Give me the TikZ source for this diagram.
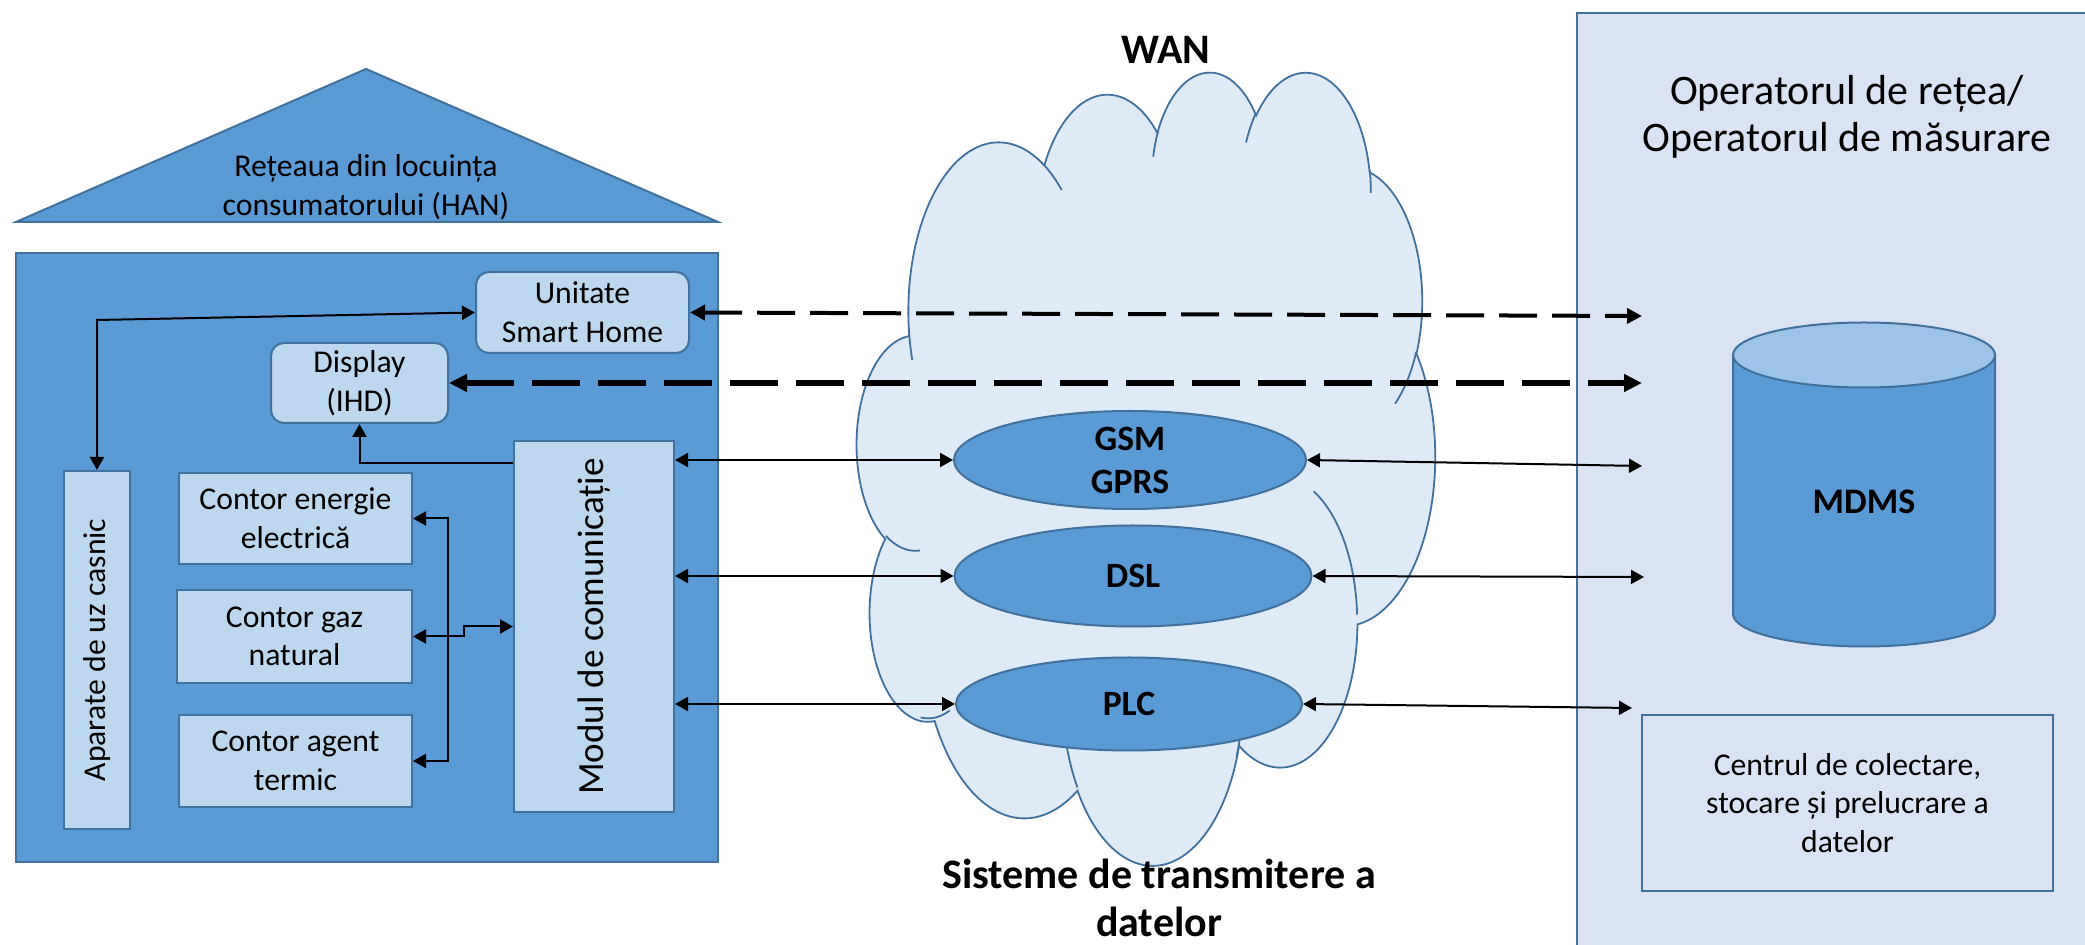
\documentclass[tikz,border=0pt]{standalone}
\usepackage{fontspec}
\setmainfont{Carlito}
\usepackage{graphicx}
\usetikzlibrary{arrows.meta,shapes.geometric}

\definecolor{accent}{HTML}{5B9BD5}
\definecolor{edge}{HTML}{41719C}
\definecolor{pale}{HTML}{BDD7EE}
\definecolor{panelfill}{HTML}{DAE3F3}
\definecolor{cloudfill}{HTML}{DEEBF7}
\definecolor{cyltop}{HTML}{9DC3E6}

% Office-style elliptic arc: visual start angle and sweep -> parametric angles
\newcommand\puffangles[5]{%
  \pgfmathsetmacro\puffS{atan2((#2)*sin(#4),(#3)*cos(#4))}%
  \pgfmathsetmacro\puffE{atan2((#2)*sin((#4)+(#5)),(#3)*cos((#4)+(#5)))}%
  \pgfmathsetmacro\puffD{Mod(\puffE-\puffS,360)}%
  \expandafter\let\csname pS#1\endcsname\puffS
  \expandafter\let\csname pD#1\endcsname\puffD}

\tikzset{
  txt/.style={font=\fontsize{15.85}{19.3}\selectfont, align=center, inner sep=0pt, text=black},
  lightbox/.style={txt, draw=edge, line width=1pt, fill=pale},
  bigbold/.style={font=\fontsize{21}{24}\selectfont\bfseries, align=center, inner sep=0pt},
  netnode/.style={ellipse, draw=edge, line width=1pt, fill=accent, inner sep=0pt,
    font=\fontsize{17.8}{21.5}\selectfont\bfseries, align=center},
  conn/.style={line width=1pt, draw=black},
  both/.style={conn, arrows={Triangle[length=6.5pt,width=7pt]-Triangle[length=6.5pt,width=7pt]}},
  dashA/.style={line width=2pt, dash pattern=on 19pt off 7.5pt,
    arrows={Triangle[length=7.5pt,width=7.5pt]-Triangle[length=7.5pt,width=7.5pt]}},
  dashB/.style={line width=3pt, dash pattern=on 24pt off 9pt,
    arrows={Triangle[length=9pt,width=8.5pt]-Triangle[length=9pt,width=8.5pt]}},
  cloudshape/.style={fill=cloudfill, draw=edge, line width=0.9pt},
  cloudline/.style={draw=edge, line width=0.9pt}
}

\begin{document}
\begin{tikzpicture}[x=0.5pt,y=-0.5pt]
\useasboundingbox (0,0) rectangle (2085,945);

% ---------- operator side ----------
\node[draw=edge, line width=1pt, fill=panelfill, minimum width=261.5pt,
      minimum height=473.5pt, inner sep=0pt] (operator) at (1838.5,486.5) {};
\node[txt, font=\fontsize{21}{23.5}\selectfont] (optitle) at (1847,116.5)
  {Operatorul de rețea/\\Operatorul de măsurare};

% MDMS database cylinder
\path[fill=accent, draw=edge, line width=1pt]
  (1733,355) -- (1733,614)
  arc[start angle=180, end angle=0, x radius=131, y radius=32.5]
  -- (1995,355) -- cycle;
\path[fill=cyltop, draw=edge, line width=1pt] (1864,355) ellipse[x radius=131, y radius=32.5];
\node[txt, font=\fontsize{18}{21}\selectfont\bfseries] (mdms) at (1864,502) {MDMS};

\node[txt, draw=edge, line width=1pt, fill=panelfill, minimum width=205.5pt,
      minimum height=88pt] (centru) at (1847.5,803)
  {Centrul de colectare,\\stocare și prelucrare a\\datelor};

% ---------- WAN cloud ----------
\puffangles{A}{67.53}{91.90}{-190.4875}{123.7805}
\puffangles{B}{53.33}{72.67}{-144.1024}{89.9452}
\puffangles{C}{43.65}{59.45}{-145.8079}{99.7230}
\puffangles{D}{48.57}{65.95}{-130.9861}{117.2417}
\puffangles{E}{53.33}{72.73}{-78.7089}{109.0269}
\puffangles{F}{67.75}{92.20}{-46.2673}{130.2690}
\puffangles{G}{57.85}{78.67}{0.6250}{114.0333}
\puffangles{H}{67.52}{92.15}{22.4516}{115.1726}
\puffangles{I}{77.20}{105.43}{66.2426}{75.7110}
\puffangles{J}{43.60}{59.18}{-274.9421}{146.7356}
\puffangles{K}{43.45}{59.45}{-246.8285}{152.5189}
\puffangles{a}{43.45}{59.45}{86.7420}{26.4295}
\puffangles{b}{43.60}{59.18}{73.6105}{21.8445}
\puffangles{c}{67.52}{92.15}{137.6242}{21.0257}
\puffangles{d}{67.52}{92.15}{6.4533}{22.0514}
\puffangles{e}{57.85}{78.67}{-70.2924}{66.7195}
\puffangles{f}{53.33}{72.73}{30.3180}{29.4215}
\puffangles{g}{48.57}{65.95}{-13.7443}{14.8663}
\puffangles{h}{48.57}{65.95}{-149.1815}{18.1876}
\puffangles{i}{43.65}{59.45}{-163.4943}{17.6860}
\puffangles{j}{67.53}{91.90}{-66.7070}{12.3194}
\puffangles{k}{67.53}{91.90}{157.6544}{11.8582}
\begin{scope}[shift={(857,70)}, x=0.66898pt, y=-0.91782pt]
  \path[cloudshape] (39.00,143.70)
    arc[x radius=67.53, y radius=91.90,  start angle=\pSA, delta angle=\pDA]
    arc[x radius=53.33, y radius=72.67,  start angle=\pSB, delta angle=\pDB]
    arc[x radius=43.65, y radius=59.45,  start angle=\pSC, delta angle=\pDC]
    arc[x radius=48.57, y radius=65.95,  start angle=\pSD, delta angle=\pDD]
    arc[x radius=53.33, y radius=72.73,  start angle=\pSE, delta angle=\pDE]
    arc[x radius=67.75, y radius=92.20,  start angle=\pSF, delta angle=\pDF]
    arc[x radius=57.85, y radius=78.67,  start angle=\pSG, delta angle=\pDG]
    arc[x radius=67.52, y radius=92.15,  start angle=\pSH, delta angle=\pDH]
    arc[x radius=77.20, y radius=105.43, start angle=\pSI, delta angle=\pDI]
    arc[x radius=43.60, y radius=59.18,  start angle=\pSJ, delta angle=\pDJ]
    arc[x radius=43.45, y radius=59.45,  start angle=\pSK, delta angle=\pDK]
    -- cycle;
  \path[cloudline]
    (46.93,261.77)  arc[x radius=43.45, y radius=59.45, start angle=\pSa, delta angle=\pDa]
    (69.28,348.99)  arc[x radius=43.60, y radius=59.18, start angle=\pSb, delta angle=\pDb]
    (164.78,390.90) arc[x radius=67.52, y radius=92.15, start angle=\pSc, delta angle=\pDc]
    (288.27,347.51) arc[x radius=67.52, y radius=92.15, start angle=\pSd, delta angle=\pDd]
    (341.29,229.54) arc[x radius=57.85, y radius=78.67, start angle=\pSe, delta angle=\pDe]
    (417.98,153.54) arc[x radius=53.33, y radius=72.73, start angle=\pSf, delta angle=\pDf]
    (383.24,54.26)  arc[x radius=48.57, y radius=65.95, start angle=\pSg, delta angle=\pDg]
    (290.78,39.52)  arc[x radius=48.57, y radius=65.95, start angle=\pSh, delta angle=\pDh]
    (221.41,47.20)  arc[x radius=43.65, y radius=59.45, start angle=\pSi, delta angle=\pDi]
    (140.00,51.92)  arc[x radius=67.53, y radius=91.90, start angle=\pSj, delta angle=\pDj]
    (41.27,157.89)  arc[x radius=67.53, y radius=91.90, start angle=\pSk, delta angle=\pDk];
\end{scope}

\node[bigbold] (wan) at (1166,50) {WAN};
\node[bigbold] (sisteme) at (1159,898) {Sisteme de transmitere a\\datelor};

% ---------- home area network ----------
\path[draw=edge, fill=accent, line width=1pt] (16,222) -- (366,69) -- (718,222) -- cycle;
\node[txt] (roof) at (366,187.5) {Rețeaua din locuința\\consumatorului (HAN)};
\node[draw=edge, fill=accent, line width=1pt, minimum width=351pt,
      minimum height=304.5pt, inner sep=0pt] (house) at (367,557.5) {};

\node[lightbox, rounded corners=6.5pt, minimum width=106.5pt, minimum height=40.5pt]
  (unitate) at (582.5,312.5) {Unitate\\Smart Home};
\node[lightbox, rounded corners=6.5pt, minimum width=88.5pt, minimum height=40pt]
  (display) at (359.5,383) {Display\\(IHD)};
\node[lightbox, minimum width=33pt, minimum height=179pt]
  (aparate) at (97,650) {\rotatebox{90}{Aparate de uz casnic}};
\node[lightbox, minimum width=116.5pt, minimum height=45.5pt]
  (ce) at (295.5,518.5) {Contor energie\\electrică};
\node[lightbox, minimum width=117.5pt, minimum height=46.5pt]
  (cg) at (294.5,636.5) {Contor gaz\\natural};
\node[lightbox, minimum width=116.5pt, minimum height=46pt]
  (ca) at (295.5,761) {Contor agent\\termic};
\node[lightbox, minimum width=80pt, minimum height=185.5pt,
      font=\fontsize{18.5}{22}\selectfont]
  (modul) at (594,626.5) {\rotatebox{90}{Modul de comunicație}};

% ---------- transmission systems ----------
\node[netnode, minimum width=176pt, minimum height=49pt] (gsm) at (1130,460) {GSM\\GPRS};
\node[netnode, minimum width=178.5pt, minimum height=50.5pt] (dsl) at (1133,576) {DSL};
\node[netnode, minimum width=173pt, minimum height=46.5pt] (plc) at (1129,704) {PLC};

% ---------- connectors ----------
\coordinate (corner) at (97,320);
\coordinate (busx) at (448,636.5);
\coordinate (rU) at (1642,316);
\coordinate (rI) at (1642,383);
\coordinate (rG) at (1642,466);
\coordinate (rD) at (1644,577);
\coordinate (rP) at (1632,708);

\draw[both] (unitate.west) -- (corner) -- (aparate.north);
\draw[conn, -{Triangle[length=6.5pt,width=7pt]}]
  ([yshift=-11.5pt]modul.north west) -| (display.south);
\draw[both] (ce.east) -- (ce.east -| busx) -- (ca.east -| busx) -- (ca.east);
\draw[both] (cg.east) -- (busx) -- ++(16,0) |- (modul.west);

\draw[both] (modul.east |- gsm.west) -- (gsm.west);
\draw[both] (modul.east |- dsl.west) -- (dsl.west);
\draw[both] (modul.east |- plc.west) -- (plc.west);

\draw[both] (gsm.east) -- (rG);
\draw[both] (dsl.east) -- (rD);
\draw[both] (plc.east) -- (rP);

\draw[dashA] (unitate.east) -- (rU);
\draw[dashB] (display.east) -- (rI);
\end{tikzpicture}
\end{document}
